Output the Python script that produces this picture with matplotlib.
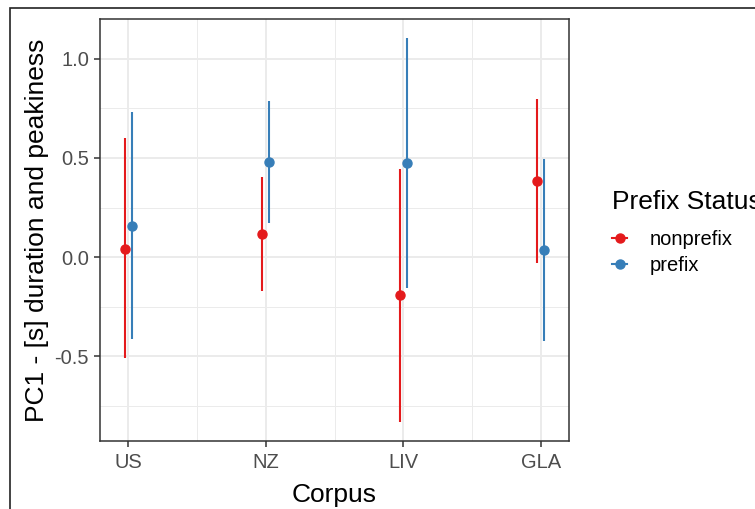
import numpy as np
import matplotlib.pyplot as plt
from matplotlib.patches import Rectangle
from matplotlib.lines import Line2D

plt.rcParams['font.family'] = ['Liberation Sans', 'DejaVu Sans']

corpora = ['US', 'NZ', 'LIV', 'GLA']
groups = ['nonprefix', 'prefix']
colors = {'nonprefix': '#E41A1C', 'prefix': '#377EB8'}

# point estimate and interval per corpus
nonprefix_mean = [0.040, 0.116, -0.191, 0.384]
nonprefix_lo = [-0.510, -0.170, -0.828, -0.030]
nonprefix_hi = [0.599, 0.403, 0.443, 0.797]
prefix_mean = [0.159, 0.478, 0.475, 0.038]
prefix_lo = [-0.413, 0.170, -0.153, -0.420]
prefix_hi = [0.732, 0.789, 1.103, 0.493]

series = {
    'nonprefix': (nonprefix_mean, nonprefix_lo, nonprefix_hi),
    'prefix': (prefix_mean, prefix_lo, prefix_hi),
}
dodge = {'nonprefix': -0.025, 'prefix': 0.025}

W, H = 755, 509
fig = plt.figure(figsize=(W / 100, H / 100), dpi=100)

# outer frame (cut off on the right and bottom)
fig.patches.append(Rectangle((10 / W, -0.1), 1.2, 1.1 - 8 / H, transform=fig.transFigure,
                             fill=False, edgecolor='#222222', lw=1.2))

ax = fig.add_axes([100 / W, (H - 440.7) / H, 469 / W, (440.7 - 19) / H])

x = np.arange(1, len(corpora) + 1)
for g in groups:
    m, lo, hi = series[g]
    xs = x + dodge[g]
    ax.vlines(xs, lo, hi, color=colors[g], lw=1.5, zorder=3)
    ax.plot(xs, m, 'o', color=colors[g], ms=6.5, zorder=4)

allv = np.r_[nonprefix_lo, nonprefix_hi, prefix_lo, prefix_hi]
rng = allv.max() - allv.min()
ax.set_ylim(allv.min() - 0.05 * rng, allv.max() + 0.05 * rng)
ax.set_xlim(0.795, 4.205)

ax.set_xticks(x)
ax.set_xticklabels(corpora)
ax.set_yticks([-0.5, 0.0, 0.5, 1.0])
ax.set_yticklabels(['-0.5', '0.0', '0.5', '1.0'])
ax.set_xticks([1.5, 2.5, 3.5], minor=True)
ax.set_yticks([-0.75, -0.25, 0.25, 0.75], minor=True)
ax.grid(which='major', color='#EBEBEB', lw=1.4, zorder=0)
ax.grid(which='minor', color='#EBEBEB', lw=0.7, zorder=0)
ax.set_axisbelow(True)
ax.tick_params(which='minor', length=0)
ax.tick_params(which='major', length=4, width=1.1, color='#333333',
               labelsize=14.5, labelcolor='#4D4D4D')
ax.tick_params(axis='x', pad=5)
ax.tick_params(axis='y', pad=4)
for s in ax.spines.values():
    s.set_color('#333333')
    s.set_linewidth(1.1)

ax.set_xlabel('Corpus', fontsize=19, labelpad=8)
ax.set_ylabel('PC1 - [s] duration and peakiness', fontsize=19, labelpad=4)

handles = [Line2D([], [], color=colors[g], lw=1.5, marker='o', ms=6.5) for g in groups]
leg = fig.legend(handles, groups, title='Prefix Status', loc='upper left',
                 bbox_to_anchor=(604 / W, 1 - 182 / H), frameon=False,
                 fontsize=14.5, title_fontsize=19, handlelength=0.75,
                 handletextpad=1.1, labelspacing=0.35, borderaxespad=0)
leg._legend_box.align = 'left'
leg._legend_box.sep = 11.5

fig.savefig('out.png', dpi=100)
